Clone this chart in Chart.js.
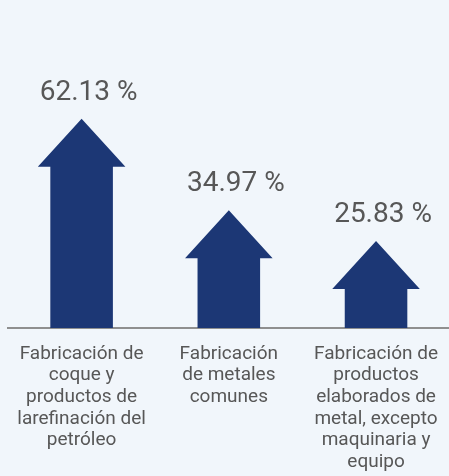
<!DOCTYPE html>
<html>
<head>
<meta charset="utf-8">
<script src="https://cdn.jsdelivr.net/npm/chart.js@4"></script>
<style>
  html, body { margin: 0; padding: 0; background: #f1f6fb; overflow: hidden; }
  #wrap { width: 453px; height: 476px; }
</style>
</head>
<body>
<div id="wrap"><canvas id="c"></canvas></div>
<script>
const categories = [
  ['Fabricación de', 'coque y', 'productos de', 'larefinación del', 'petróleo'],
  ['Fabricación', 'de metales', 'comunes'],
  ['Fabricación de', 'productos', 'elaborados de', 'metal, excepto', 'maquinaria y', 'equipo'],
];
const shares = [62.13, 34.97, 25.83];
const shareLabels = ['62.13 %', '34.97 %', '25.83 %'];

const ARROW = '#1c3775';
const TEXT = '#575757';

// draws each bar as an up arrow (shaft + triangular head)
const arrowPlugin = {
  id: 'arrows',
  afterDatasetsDraw(chart) {
    const { ctx } = chart;
    const meta = chart.getDatasetMeta(0);
    const headH = 48;
    ctx.save();
    meta.data.forEach((bar, i) => {
      const { x, y, base, width } = bar.getProps(['x', 'y', 'base', 'width'], true);
      const half = width / 2;
      const headHalf = width * 0.7;
      ctx.fillStyle = ARROW;
      ctx.beginPath();
      ctx.moveTo(x, y);
      ctx.lineTo(x + headHalf, y + headH);
      ctx.lineTo(x + half, y + headH);
      ctx.lineTo(x + half, base);
      ctx.lineTo(x - half, base);
      ctx.lineTo(x - half, y + headH);
      ctx.lineTo(x - headHalf, y + headH);
      ctx.closePath();
      ctx.fill();

      ctx.fillStyle = TEXT;
      ctx.font = '28px Roboto';
      ctx.textAlign = 'center';
      ctx.textBaseline = 'alphabetic';
      ctx.fillText(shareLabels[i], x + 7, y - 19);
    });
    ctx.restore();
  }
};

new Chart(document.getElementById('c'), {
  type: 'bar',
  data: {
    labels: categories,
    datasets: [{
      data: shares,
      backgroundColor: 'rgba(0,0,0,0)',
      borderWidth: 0,
      barPercentage: 0.425,
      categoryPercentage: 1,
    }],
  },
  options: {
    responsive: true,
    maintainAspectRatio: false,
    animation: false,
    layout: { padding: { left: 8, right: 0, top: 0, bottom: 0 } },
    plugins: { legend: { display: false }, tooltip: { enabled: false } },
    scales: {
      x: {
        grid: { display: false, drawTicks: false },
        border: { display: true, color: '#8f8f8f', width: 2 },
        ticks: {
          autoSkip: false,
          maxRotation: 0,
          padding: 15,
          color: TEXT,
          font: { family: 'Roboto', size: 19, lineHeight: 1.14 },
        },
        afterFit(scale) { scale.height = 148; },
      },
      y: {
        display: false,
        min: 0,
        max: 97.4,
      },
    },
  },
  plugins: [arrowPlugin],
});
</script>
</body>
</html>
